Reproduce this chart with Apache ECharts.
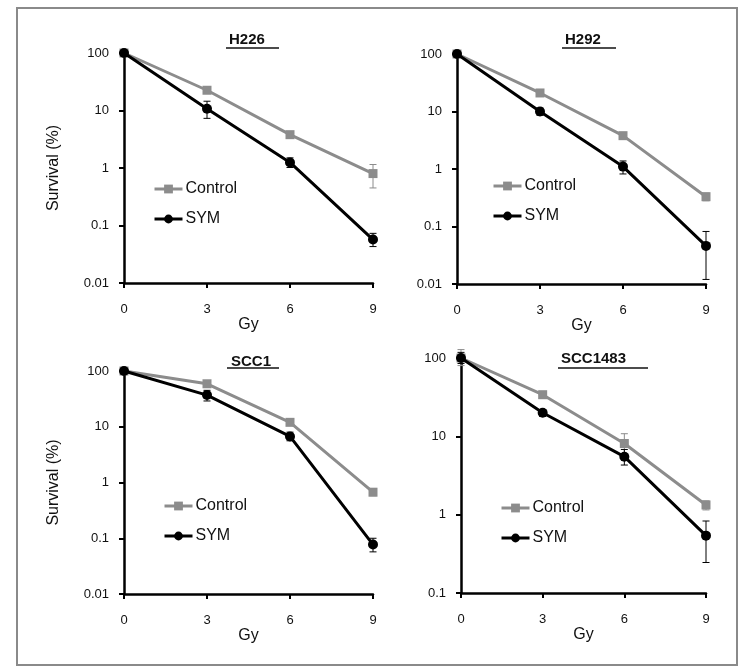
<!DOCTYPE html>
<html>
<head>
<meta charset="utf-8">
<script src="https://cdn.jsdelivr.net/npm/echarts@6/dist/echarts.min.js"></script>
<style>
html,body{margin:0;padding:0;background:#fff;}
#c{width:750px;height:672px;}
</style>
</head>
<body>
<div id="c"></div>
<script>
// ---- data ----
const doseGy = [0, 3, 6, 9];
const xTickLabels = ['0', '3', '6', '9'];
const yTickLabels = ['0.01', '0.1', '1', '10', '100'];
const panelTitles = ['H226', 'H292', 'SCC1', 'SCC1483'];
const seriesNames = ['Control', 'SYM'];

const h226Control   = [100, 22.5, 3.8, 0.8];
const h226ControlLo = [93, 20.5, 3.4, 0.45];
const h226ControlHi = [107, 24.5, 4.2, 1.15];
const h226Sym       = [100, 10.7, 1.25, 0.057];
const h226SymLo     = [93, 7.3, 1.02, 0.043];
const h226SymHi     = [107, 14.5, 1.5, 0.073];

const h292Control   = [100, 21, 3.8, 0.33];
const h292ControlLo = [93, 19, 3.4, 0.28];
const h292ControlHi = [107, 23, 4.2, 0.38];
const h292Sym       = [100, 10, 1.1, 0.046];
const h292SymLo     = [93, 8.6, 0.82, 0.012];
const h292SymHi     = [107, 11.5, 1.38, 0.082];

const scc1Control   = [100, 59, 12, 0.67];
const scc1ControlLo = [93, 54, 11, 0.58];
const scc1ControlHi = [107, 64, 13, 0.77];
const scc1Sym       = [100, 37, 6.7, 0.077];
const scc1SymLo     = [93, 29, 5.6, 0.057];
const scc1SymHi     = [107, 45, 8, 0.1];

const scc1483Control   = [100, 34, 8.1, 1.33];
const scc1483ControlLo = [80, 31, 6.0, 1.15];
const scc1483ControlHi = [128, 37, 10.8, 1.5];
const scc1483Sym       = [100, 20, 5.5, 0.54];
const scc1483SymLo     = [85, 18, 4.3, 0.245];
const scc1483SymHi     = [118, 22, 6.8, 0.83];

const panelData = [
  {ctrl: h226Control, ctrlLo: h226ControlLo, ctrlHi: h226ControlHi, sym: h226Sym, symLo: h226SymLo, symHi: h226SymHi, yMin: 0.01},
  {ctrl: h292Control, ctrlLo: h292ControlLo, ctrlHi: h292ControlHi, sym: h292Sym, symLo: h292SymLo, symHi: h292SymHi, yMin: 0.01},
  {ctrl: scc1Control, ctrlLo: scc1ControlLo, ctrlHi: scc1ControlHi, sym: scc1Sym, symLo: scc1SymLo, symHi: scc1SymHi, yMin: 0.01},
  {ctrl: scc1483Control, ctrlLo: scc1483ControlLo, ctrlHi: scc1483ControlHi, sym: scc1483Sym, symLo: scc1483SymLo, symHi: scc1483SymHi, yMin: 0.1}
];

// ---- layout / style ----
const FONT = '"Liberation Sans", Arial, Helvetica, sans-serif';
const GRAY = '#8c8c8c';
const BLACK = '#000000';
const grids = [
  {left: 124, top: 53, width: 249, height: 230},
  {left: 457, top: 54, width: 249, height: 230},
  {left: 124, top: 371, width: 249, height: 223},
  {left: 461, top: 358, width: 245, height: 235}
];
const titlePos = [
  {left: 229, top: 32}, {left: 565, top: 32}, {left: 231, top: 354}, {left: 561, top: 351}
];
const underlines = [
  [226, 279, 48], [562, 616, 48], [227, 279, 368], [558, 648, 368]
];
const legendPos = [
  {left: 153, top: 181}, {left: 492, top: 178}, {left: 163, top: 498}, {left: 500, top: 500}
];
const yNames = ['Survival (%)', '', 'Survival (%)', ''];
const xNameGap = [32, 32, 33, 31];

function fmtY(v) {
  let best = yTickLabels[0], bd = Infinity;
  for (const t of yTickLabels) {
    const d = Math.abs(Math.log10(parseFloat(t)) - Math.log10(v));
    if (d < bd) { bd = d; best = t; }
  }
  return best;
}

function pts(ys) { return doseGy.map((x, i) => [x, ys[i]]); }
function errPts(lo, hi) { return doseGy.map((x, i) => [x, lo[i], hi[i]]); }

function errRender(color) {
  return function (params, api) {
    const x = api.value(0);
    const a = api.coord([x, api.value(1)]);
    const b = api.coord([x, api.value(2)]);
    const cap = 3.5;
    const st = {stroke: color, lineWidth: 1};
    return {
      type: 'group',
      children: [
        {type: 'line', shape: {x1: a[0], y1: a[1], x2: b[0], y2: b[1]}, style: st},
        {type: 'line', shape: {x1: a[0] - cap, y1: a[1], x2: a[0] + cap, y2: a[1]}, style: st},
        {type: 'line', shape: {x1: b[0] - cap, y1: b[1], x2: b[0] + cap, y2: b[1]}, style: st}
      ]
    };
  };
}

const option = {
  animation: false,
  backgroundColor: '#ffffff',
  textStyle: {fontFamily: FONT},
  title: panelTitles.map((t, i) => ({
    text: t, left: titlePos[i].left, top: titlePos[i].top, padding: 0,
    textStyle: {fontFamily: FONT, fontSize: 15, fontWeight: 'bold', color: '#111'}
  })),
  grid: grids.map(g => Object.assign({containLabel: false}, g)),
  legend: legendPos.map((p, i) => ({
    data: seriesNames, orient: 'vertical', left: p.left, top: p.top, padding: 0,
    itemWidth: 28, itemHeight: 11, itemGap: 14,
    lineStyle: {width: 3},
    textStyle: {fontFamily: FONT, fontSize: 16, color: '#111', padding: [0, 0, 0, -2]},
    selectedMode: false
  })),
  xAxis: grids.map((g, i) => ({
    type: 'value', gridIndex: i, min: 0, max: 9, interval: 3,
    name: 'Gy', nameLocation: 'middle', nameGap: xNameGap[i],
    nameTextStyle: {fontFamily: FONT, fontSize: 16, color: '#111'},
    axisLine: {show: true, onZero: false, lineStyle: {color: BLACK, width: 2.5}},
    axisTick: {show: true, length: 5, lineStyle: {color: BLACK, width: 2}},
    axisLabel: {fontFamily: FONT, fontSize: 13, color: '#111', margin: 20,
      formatter: v => xTickLabels[doseGy.indexOf(v)] ?? ''},
    splitLine: {show: false}
  })),
  yAxis: grids.map((g, i) => ({
    type: 'log', logBase: 10, gridIndex: i, min: panelData[i].yMin, max: 100,
    name: yNames[i], nameLocation: 'middle', nameGap: 62, nameRotate: 90,
    nameTextStyle: {fontFamily: FONT, fontSize: 16, color: '#111'},
    axisLine: {show: true, onZero: false, lineStyle: {color: BLACK, width: 2.5}},
    axisTick: {show: true, length: 5, lineStyle: {color: BLACK, width: 2}},
    minorTick: {show: false},
    axisLabel: {fontFamily: FONT, fontSize: 13, color: '#111', margin: 15, formatter: fmtY},
    splitLine: {show: false}
  })),
  series: [],
  graphic: [
    {type: 'rect', shape: {x: 17, y: 8, width: 720, height: 657},
      style: {fill: null, stroke: '#8a8a8a', lineWidth: 2}, z: 100}
  ].concat(underlines.map(u => ({
    type: 'line', shape: {x1: u[0], y1: u[2], x2: u[1], y2: u[2]},
    style: {stroke: '#111', lineWidth: 1.5}
  })))
};

panelData.forEach((p, i) => {
  option.series.push({
    type: 'custom', xAxisIndex: i, yAxisIndex: i, clip: false, z: 1,
    renderItem: errRender(GRAY), encode: {x: 0, y: [1, 2]},
    data: errPts(p.ctrlLo, p.ctrlHi), silent: true
  });
  option.series.push({
    type: 'custom', xAxisIndex: i, yAxisIndex: i, clip: false, z: 1,
    renderItem: errRender(BLACK), encode: {x: 0, y: [1, 2]},
    data: errPts(p.symLo, p.symHi), silent: true
  });
  option.series.push({
    name: 'Control', type: 'line', xAxisIndex: i, yAxisIndex: i, clip: false, z: 2,
    data: pts(p.ctrl), symbol: 'rect', symbolSize: 9,
    itemStyle: {color: GRAY}, lineStyle: {color: GRAY, width: 3}
  });
  option.series.push({
    name: 'SYM', type: 'line', xAxisIndex: i, yAxisIndex: i, clip: false, z: 3,
    data: pts(p.sym), symbol: 'circle', symbolSize: 10,
    itemStyle: {color: BLACK}, lineStyle: {color: BLACK, width: 3}
  });
});

const chart = echarts.init(document.getElementById('c'), null, {renderer: 'canvas'});
chart.setOption(option);
</script>
</body>
</html>
